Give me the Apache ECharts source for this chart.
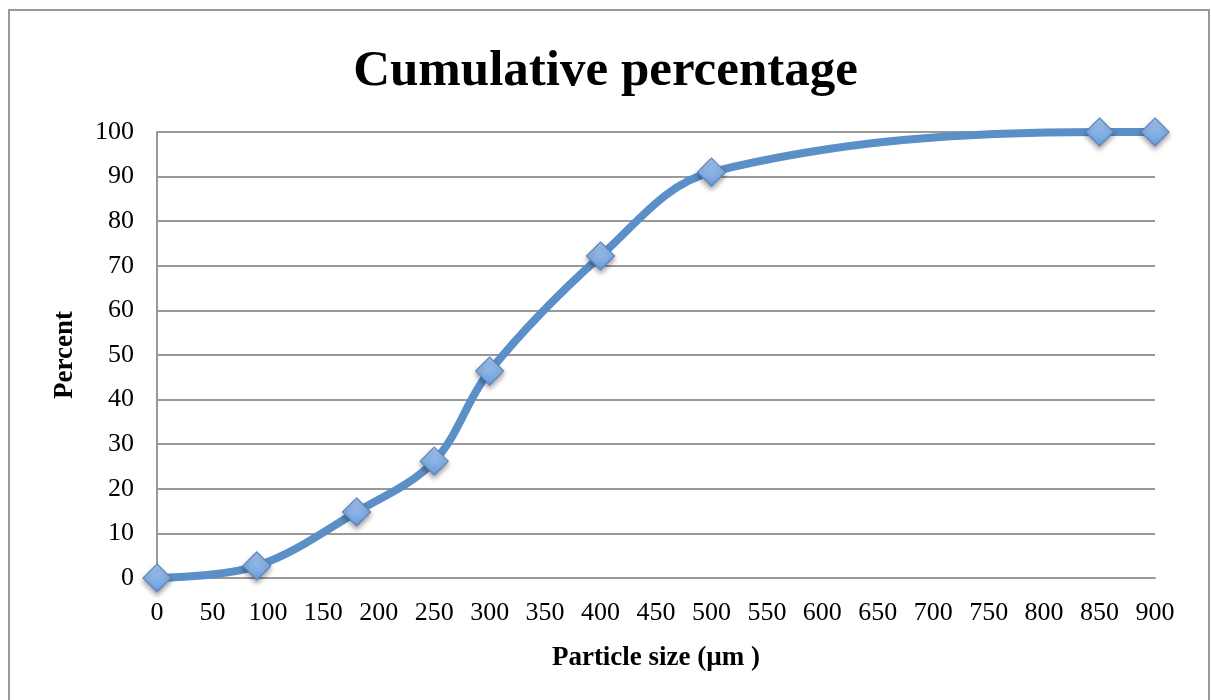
<!DOCTYPE html>
<html>
<head>
<meta charset="utf-8">
<script src="https://cdn.jsdelivr.net/npm/echarts@6/dist/echarts.min.js"></script>
<style>
  html, body { margin: 0; padding: 0; background: #fff; }
  #chart { width: 1211px; height: 700px; }
</style>
</head>
<body>
<div id="chart"></div>
<script>
// Particle size (µm) and cumulative passing percentage
const particleSize = [0, 90, 180, 250, 300, 400, 500, 850, 900];
const cumulativePercent = [0, 2.7, 14.8, 26.2, 46.4, 72.2, 91.0, 100, 100];
const yTicks = [0, 10, 20, 30, 40, 50, 60, 70, 80, 90, 100];

const serif = '"Liberation Serif", "DejaVu Serif", serif';
const chart = echarts.init(document.getElementById('chart'));

chart.setOption({
  animation: false,
  backgroundColor: '#fff',
  title: {
    text: 'Cumulative percentage',
    left: 'center',
    top: 41,
    textStyle: { fontFamily: serif, fontWeight: 'bold', fontSize: 51, color: '#000' }
  },
  graphic: [{
    type: 'rect',
    shape: { x: 9, y: 10, width: 1200, height: 700 },
    style: { fill: 'none', stroke: '#999', lineWidth: 2 },
    silent: true
  }],
  grid: { left: 157, right: 56, top: 132, bottom: 122, containLabel: false },
  xAxis: {
    type: 'value',
    min: 0, max: 900, interval: 50,
    name: 'Particle size (µm )',
    nameLocation: 'middle',
    nameGap: 67,
    nameTextStyle: { fontFamily: serif, fontWeight: 'bold', fontSize: 27, color: '#000' },
    axisLine: { show: true, lineStyle: { color: '#999', width: 2 } },
    axisTick: { show: false },
    splitLine: { show: false },
    axisLabel: { fontFamily: serif, fontSize: 26, color: '#000', margin: 22 }
  },
  yAxis: {
    type: 'value',
    min: yTicks[0], max: yTicks[yTicks.length - 1], interval: 10,
    name: 'Percent',
    nameLocation: 'middle',
    nameGap: 78,
    nameRotate: 90,
    nameTextStyle: { fontFamily: serif, fontWeight: 'bold', fontSize: 27, color: '#000' },
    axisLine: { show: true, lineStyle: { color: '#999', width: 2 } },
    axisTick: { show: false },
    splitLine: { show: true, lineStyle: { color: '#999', width: 2 } },
    axisLabel: { fontFamily: serif, fontSize: 26, color: '#000', margin: 23 }
  },
  series: [{
    type: 'line',
    data: particleSize.map((x, i) => [x, cumulativePercent[i]]),
    smooth: 0.35,
    lineStyle: { color: '#5B8FC8', width: 8 },
    symbol: 'diamond',
    symbolSize: 28,
    itemStyle: {
      color: new echarts.graphic.LinearGradient(0, 0, 0, 1, [
        { offset: 0, color: '#A9CBF2' },
        { offset: 1, color: '#6A9CDB' }
      ]),
      borderColor: '#5B86BE',
      borderWidth: 1.2,
      shadowColor: 'rgba(0,0,0,0.35)',
      shadowBlur: 5,
      shadowOffsetY: 3
    },
    z: 3
  }]
});
</script>
</body>
</html>
